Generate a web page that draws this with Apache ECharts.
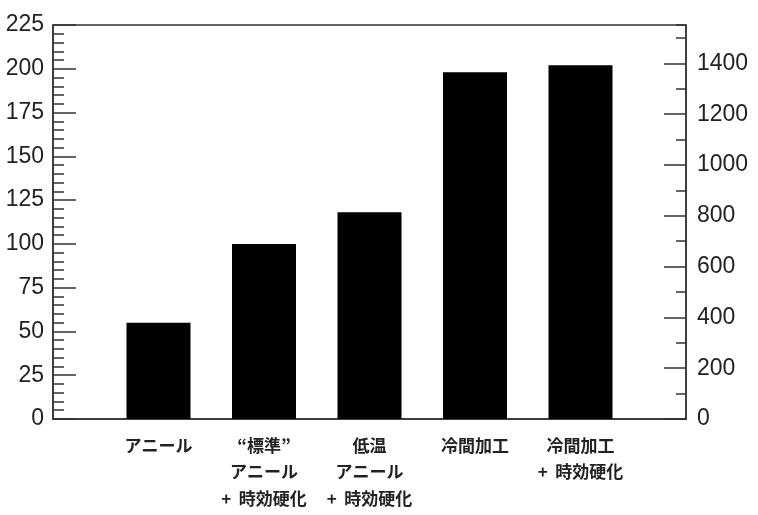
<!DOCTYPE html>
<html>
<head>
<meta charset="utf-8">
<script src="https://cdn.jsdelivr.net/npm/echarts@6/dist/echarts.min.js"></script>
<style>
  html, body { margin: 0; padding: 0; background: #fff; }
  #chart { width: 758px; height: 515px; }
</style>
</head>
<body>
<div id="chart"></div>
<script>
// categories (empty slots at both ends so bars sit on the tick positions)
var categories = ['', 'アニール', '“標準”\nアニール\n+  時効硬化', '低温\nアニール\n+  時効硬化', '冷間加工', '冷間加工\n+  時効硬化', ''];
// strength in ksi (left axis)
var strengthKsi = ['-', 55, 100, 118, 198, 202, '-'];
// left axis range, ksi
var ksiMax = 225;
var ksiStep = 25;
// right axis in MPa
var mpaPerKsi = 6.895;
var mpaStep = 200;

var chart = echarts.init(document.getElementById('chart'));
var textColor = '#222';
var lineColor = '#333';
var numFont = '"Liberation Sans", Arial, sans-serif';

var option = {
    animation: false,
    grid: {
        left: 53,
        right: 72,
        top: 25,
        bottom: 96,
        show: true,
        borderColor: lineColor,
        borderWidth: 1.5
    },
    xAxis: {
        type: 'category',
        data: categories,
        boundaryGap: false,
        axisLine: { lineStyle: { color: lineColor, width: 1.5 } },
        axisTick: { show: false },
        axisLabel: {
            interval: 0,
            margin: 13,
            color: textColor,
            fontSize: 17,
            fontWeight: 'bold',
            lineHeight: 26.5,
            fontFamily: '"Noto Sans CJK JP", sans-serif'
        },
        splitLine: { show: false }
    },
    yAxis: [
        {
            type: 'value',
            position: 'left',
            min: 0,
            max: ksiMax,
            interval: ksiStep,
            axisLine: { show: true, lineStyle: { color: lineColor, width: 1.5 } },
            axisTick: { show: true, inside: true, length: 23, lineStyle: { color: lineColor, width: 1.5 } },
            minorTick: { show: true, splitNumber: 5, length: 11, lineStyle: { color: lineColor, width: 1.5 } },
            axisLabel: { color: textColor, fontSize: 23, margin: 9, fontFamily: numFont },
            splitLine: { show: false }
        },
        {
            type: 'value',
            position: 'right',
            min: 0,
            max: ksiMax * mpaPerKsi,
            interval: mpaStep,
            axisLine: { show: true, lineStyle: { color: lineColor, width: 1.5 } },
            axisTick: { show: true, inside: true, length: 22, lineStyle: { color: lineColor, width: 1.5 } },
            axisLabel: {
                color: textColor, fontSize: 23, margin: 11, showMaxLabel: false, fontFamily: numFont,
                formatter: function (v) { return String(v); }
            },
            splitLine: { show: false }
        },
        {
            // minor ticks every 100 MPa on the right side
            type: 'value',
            position: 'right',
            min: 0,
            max: ksiMax * mpaPerKsi,
            interval: mpaStep / 2,
            axisLine: { show: false },
            axisTick: { show: true, inside: true, length: 10, lineStyle: { color: lineColor, width: 1.5 } },
            axisLabel: { show: false },
            splitLine: { show: false }
        }
    ],
    series: [{
        type: 'bar',
        yAxisIndex: 0,
        data: strengthKsi,
        barWidth: 64,
        itemStyle: { color: '#000' }
    }]
};
chart.setOption(option);
</script>
</body>
</html>
